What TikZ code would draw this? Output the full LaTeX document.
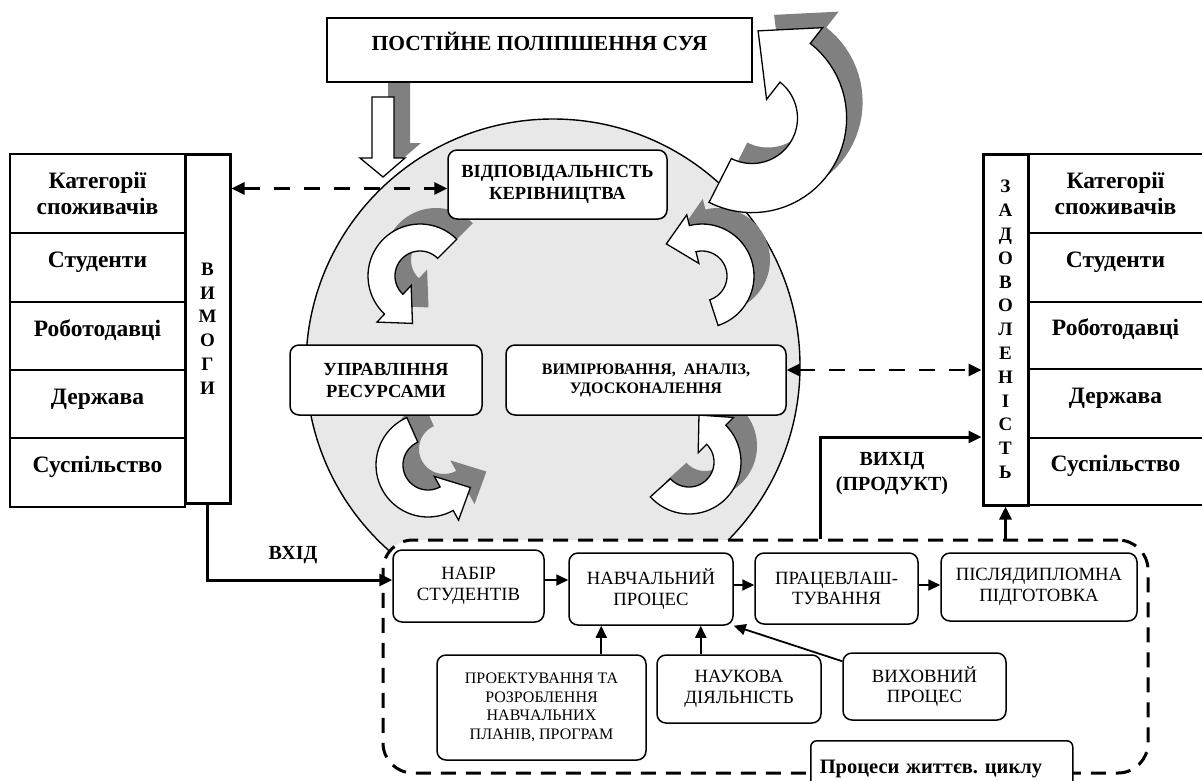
\documentclass[tikz,border=0pt]{standalone}
\usepackage{fontspec}
\setmainfont{Liberation Serif}
\usetikzlibrary{arrows.meta,calc}
\definecolor{circfill}{RGB}{232,232,232}
\definecolor{shadegray}{RGB}{128,128,128}
\newcommand\ftTab{\fontsize{23.5pt}{26pt}\selectfont\bfseries}
\newcommand\ftBar{\fontsize{19pt}{23.8pt}\selectfont\bfseries}
\newcommand\ftCirc{\fontsize{18.5pt}{22pt}\selectfont\bfseries}
\newcommand\ftMeas{\fontsize{16pt}{19pt}\selectfont\bfseries}
\newcommand\ftProc{\fontsize{18.7pt}{20.5pt}\selectfont}
\newcommand\ftSmall{\fontsize{16pt}{18.7pt}\selectfont}
\newcommand\ftLab{\fontsize{20pt}{25pt}\selectfont\bfseries}
\newcommand\ftTop{\fontsize{21.5pt}{24pt}\selectfont\bfseries}
\newcommand\ftLife{\fontsize{20.5pt}{22pt}\selectfont\bfseries}
% curved block arrow: cx, cy, scale, tail angle, head-base angle, tip angle, style
\newcommand{\cArrow}[7]{%
 \path[#7] plot[domain=#4:#5,samples=40] ({#1+52*#3*cos(\x)},{#2-52*#3*sin(\x)})
 -- ({#1+63*#3*cos(#5)},{#2-63*#3*sin(#5)})
 -- ({#1+48*#3*cos(#6)},{#2-48*#3*sin(#6)})
 -- ({#1+13*#3*cos(#5)},{#2-13*#3*sin(#5)})
 -- plot[domain=#5:#4,samples=40] ({#1+25*#3*cos(\x)},{#2-25*#3*sin(\x)}) -- cycle;}
\begin{document}
\begin{tikzpicture}[x=1pt,y=-1pt,
  box/.style={draw,line width=1.5pt,rounded corners=9pt,fill=white,align=center,inner sep=2pt},
  cell/.style={draw,line width=1.2pt,minimum width=175pt,inner sep=0pt,font=\ftTab},
  bar/.style={draw,line width=3pt,minimum width=45pt,align=center,inner sep=0pt,fill=white,font=\ftBar},
  shadowarrow/.style={fill=shadegray,draw=none},
  whitearrow/.style={fill=white,draw=black,line width=1.3pt,line join=miter},
  dasharrow/.style={line width=2.6pt,dash pattern=on 16pt off 14pt,{Triangle[length=13pt,width=12pt]}-{Triangle[length=13pt,width=12pt]}},
  thickarrow/.style={line width=3pt,-{Triangle[length=13pt,width=12pt]}},
  smallarrow/.style={line width=1.8pt,-{Triangle[length=12pt,width=11pt]}}]
\useasboundingbox (0,0) rectangle (1202,780);

% big circle
\node[circle,draw,line width=1.4pt,fill=circfill,minimum size=494pt,inner sep=0pt] (qms) at (553,366) {};

% life-cycle dashed region
\node[draw,line width=3pt,dash pattern=on 15pt off 10pt,rounded corners=30pt,fill=white,
      minimum width=765pt,minimum height=233pt] (lifecycle) at (765.5,656.5) {};

% shadows
\begin{scope}[shift={(16,-16)}]
 \cArrow{752}{118}{1.82}{243}{412}{446}{shadowarrow}
 \cArrow{420}{276}{1}{45}{227}{261}{shadowarrow}
 \cArrow{428}{465}{1}{114}{299}{332}{shadowarrow}
 \cArrow{702}{276}{1}{-72}{104}{138}{shadowarrow}
 \cArrow{689}{462}{1}{222}{405}{438}{shadowarrow}
\end{scope}
\path[shadowarrow,shift={(16,-15)}] (372,97) -- (394,97) -- (394,158) -- (405,158) -- (383,177) -- (360,158) -- (372,158) -- cycle;

% white arrows
\cArrow{752}{118}{1.82}{243}{412}{446}{whitearrow}
\cArrow{420}{276}{1}{45}{227}{261}{whitearrow}
\cArrow{428}{465}{1}{114}{299}{332}{whitearrow}
\cArrow{702}{276}{1}{-72}{104}{138}{whitearrow}
\cArrow{689}{462}{1}{222}{405}{438}{whitearrow}
\path[whitearrow] (372,97) -- (394,97) -- (394,158) -- (405,158) -- (383,177) -- (360,158) -- (372,158) -- cycle;

% top box
\node[draw,line width=1.5pt,fill=white,minimum width=425pt,minimum height=64pt,font=\ftTop] (improve) at (539.5,50)
  {\raisebox{0pt}[0pt][0pt]{ПОСТІЙНЕ ПОЛІПШЕННЯ СУЯ}};

% boxes in circle
\node[box,minimum width=219pt,minimum height=69pt,font=\ftCirc] (vidp) at (557.5,184.5) {ВІДПОВІДАЛЬНІСТЬ\\КЕРІВНИЦТВА};
\node[box,minimum width=192pt,minimum height=70pt,font=\ftCirc] (upr) at (386,380) {УПРАВЛІННЯ\\РЕСУРСАМИ};
\node[box,minimum width=280pt,minimum height=70pt,font=\ftMeas] (vymir) at (646,380) {ВИМІРЮВАННЯ,~~АНАЛІЗ,\\УДОСКОНАЛЕННЯ};

% left table
\node[cell,minimum height=79pt,align=center] (l1) at (97.5,193.5) {Категорії\\споживачів};
\node[cell,minimum height=69pt] (l2) at (97.5,267.5) {\raisebox{0pt}[0pt][0pt]{Студенти}};
\node[cell,minimum height=68pt] (l3) at (97.5,336) {\raisebox{0pt}[0pt][0pt]{Роботодавці}};
\node[cell,minimum height=68pt] (l4) at (97.5,404) {\raisebox{0pt}[0pt][0pt]{Держава}};
\node[cell,minimum height=69pt] (l5) at (97.5,472.5) {\raisebox{0pt}[0pt][0pt]{Суспільство}};
\node[bar,minimum height=349pt] (vymogy) at (207.5,328.5) {В\\И\\М\\О\\Г\\И};

% right table
\node[cell,minimum height=79pt,align=center] (r1) at (1115.5,193.5) {Категорії\\споживачів};
\node[cell,minimum height=69pt] (r2) at (1115.5,267.5) {\raisebox{0pt}[0pt][0pt]{Студенти}};
\node[cell,minimum height=67pt] (r3) at (1115.5,335.5) {\raisebox{0pt}[0pt][0pt]{Роботодавці}};
\node[cell,minimum height=69pt] (r4) at (1115.5,403.5) {\raisebox{0pt}[0pt][0pt]{Держава}};
\node[cell,minimum height=67pt] (r5) at (1115.5,471.5) {\raisebox{0pt}[0pt][0pt]{Суспільство}};
\node[bar,minimum height=351pt] (zadov) at (1005.5,329.5) {З\\А\\Д\\О\\В\\О\\Л\\Е\\Н\\І\\С\\Т\\Ь};

% process boxes
\node[box,minimum width=151pt,minimum height=72pt,font=\ftProc] (nabir) at (468.5,586) {НАБІР\\СТУДЕНТІВ};
\node[box,minimum width=164pt,minimum height=72pt,font=\ftProc] (navch) at (651,589) {НАВЧАЛЬНИЙ\\ПРОЦЕС};
\node[box,minimum width=163pt,minimum height=71pt,font=\ftProc] (prats) at (836.5,588.5) {ПРАЦЕВЛАШ-\\ТУВАННЯ};
\node[box,minimum width=196pt,minimum height=68pt,font=\ftProc] (pislya) at (1039,587) {ПІСЛЯДИПЛОМНА\\ПІДГОТОВКА};
\node[box,minimum width=209pt,minimum height=105pt,font=\ftSmall] (proekt) at (541.5,707.5) {ПРОЕКТУВАННЯ ТА\\РОЗРОБЛЕННЯ\\НАВЧАЛЬНИХ\\ПЛАНІВ, ПРОГРАМ};
\node[box,minimum width=164pt,minimum height=68pt,font=\ftProc] (nauk) at (739,689) {НАУКОВА\\ДІЯЛЬНІСТЬ};
\node[box,minimum width=163pt,minimum height=67pt,font=\ftProc] (vyhov) at (924.5,686.5) {ВИХОВНИЙ\\ПРОЦЕС};
\node[draw,line width=1.5pt,rounded corners=6pt,fill=white,minimum width=262pt,minimum height=56pt,
      text width=244pt,align=left,font=\ftLife,anchor=north west] (lifelab) at (810,740) {Процеси життєв.\ циклу};

% labels
\node[font=\ftLab] (vhidlab) at (293,555) {ВХІД};
\node[font=\ftLab,align=center] (vyhidlab) at (892,474) {ВИХІД\\(ПРОДУКТ)};

% dashed connectors
\coordinate (d1) at ($(vidp.west)+(0,4)$);
\draw[dasharrow] (vymogy.east |- d1) -- (d1);
\coordinate (d2) at ($(vymir.east)+(0,-10)$);
\draw[dasharrow] (d2) -- (zadov.west |- d2);

% input / output
\coordinate (vin) at ($(nabir.west)+(0,-6)$);
\draw[thickarrow] (vymogy.south) |- (vin);
\coordinate (vout) at ($(lifecycle.north)+(54.5,0)$);
\draw[thickarrow] (vout) |- ($(zadov.west)+(0,107.5)$);
\draw[thickarrow] (lifecycle.north -| zadov.south) -- (zadov.south);

% process arrows
\coordinate (a1) at ($(nabir.east)+(0,-6)$);
\draw[smallarrow] (a1) -- (navch.west |- a1);
\coordinate (a2) at ($(navch.east)+(0,-4)$);
\draw[smallarrow] (a2) -- (prats.west |- a2);
\coordinate (a3) at ($(prats.east)+(0,-3.5)$);
\draw[smallarrow] (a3) -- (pislya.west |- a3);
\coordinate (u1) at ($(navch.south west)+(33,0)$);
\draw[smallarrow] (u1 |- proekt.north) -- (u1);
\coordinate (u2) at ($(navch.south east)+(-33,0)$);
\draw[smallarrow] (u2 |- nauk.north) -- (u2);
\draw[smallarrow] ($(vyhov.north west)+(0,9)$) -- (navch.south east);
\end{tikzpicture}
\end{document}
